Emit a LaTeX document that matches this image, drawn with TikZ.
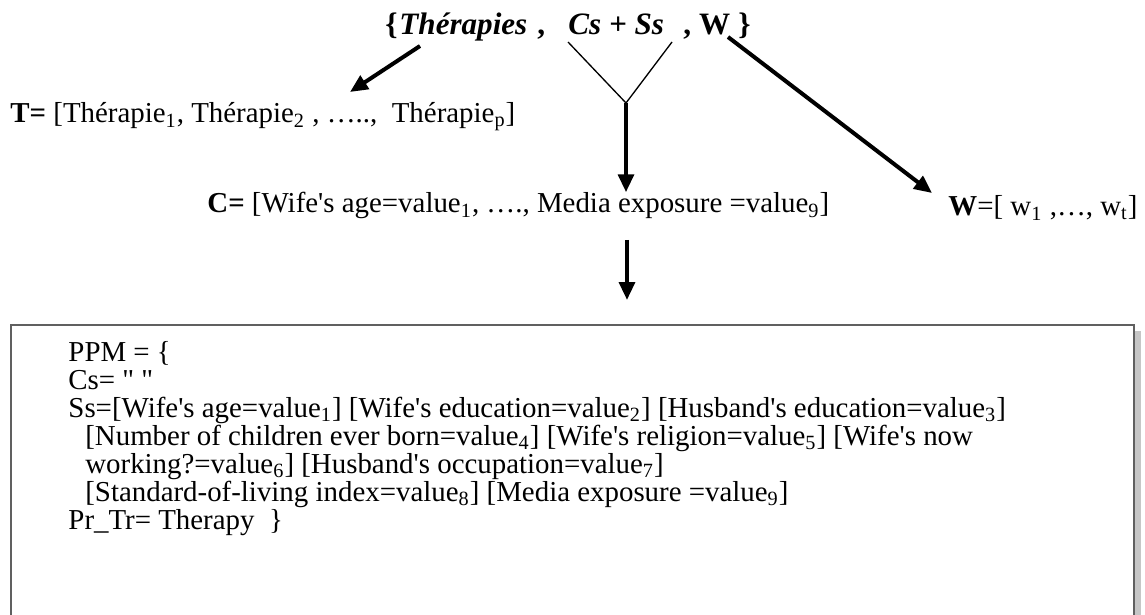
\documentclass[tikz,border=0pt]{standalone}
\usepackage{fontspec}
\setmainfont{Liberation Serif}[Ligatures=TeXOff]
\usetikzlibrary{arrows.meta}
\tikzset{
  txt/.style={anchor=base west, inner sep=0pt, font=\fontsize{13}{12.6}\selectfont},
  ttl/.style={txt, font=\fontsize{14}{14}\selectfont\bfseries},
  arr/.style={line width=1.8pt, -{Triangle[length=8pt,width=7pt]}},
  fork/.style={line width=0.6pt},
  ppmbox/.style={draw=gray!75!black, line width=0.9pt},
}
\begin{document}
\begin{tikzpicture}[x=0.45pt,y=-0.45pt]
    \useasboundingbox (0,0) rectangle (1145,615);
    \clip (0,0) rectangle (1145,615);

    \node[ttl] (bo) at (385,35) {\{};
    \node[ttl] (ther) at (399,35) {\textit{Thérapies}};
    \node[ttl] (cm) at (537,35) {,};
    \node[ttl] (css) at (568,35) {\textit{Cs + Ss}};
    \node[ttl] (wt) at (683,35) {, W};
    \node[ttl] (bc) at (738,35) {\}};

    \node[txt] (tvec) at (10,123) {\textbf{T=} [Thérapie\textsubscript{1}, Thérapie\textsubscript{2} , ….., \ Thérapie\textsubscript{p}]};
    \node[txt] (cvec) at (207,213) {\textbf{C=} [Wife's age=value\textsubscript{1}, …., Media exposure =value\textsubscript{9}]};
    \node[txt] (wvec) at (948,216) {\textbf{W}=[ w\textsubscript{1} ,…, w\textsubscript{t}]};

    \coordinate (tS) at (420,46);
    \coordinate (tE) at (350,92);
    \coordinate (csL) at (568,42);
    \coordinate (csR) at (672,42);
    \coordinate (jn) at (626,103);
    \coordinate (wS) at (728,37);
    \coordinate (wE) at (932,193);
    \coordinate (cS) at (627,240);
    \coordinate (cE) at (627,300);

    \draw[arr] (tS) -- (tE);
    \draw[fork] (csL) -- (jn) -- (csR);
    \draw[arr] (jn) -- (jn |- cvec.north);
    \draw[arr] (wS) -- (wE);
    \draw[arr] (cS) -- (cE);

    \fill[gray!45] (1134,331) rectangle (1141,640);
    \draw[ppmbox] (11,325) rectangle (1134,640);
    \node[txt, anchor=north west, align=left] (ppm) at (68,341) {PPM = \{\\
        Cs= " "\\
        Ss=[Wife's age=value\textsubscript{1}] [Wife's education=value\textsubscript{2}] [Husband's education=value\textsubscript{3}]\\
        \hspace*{7.6pt}[Number of children ever born=value\textsubscript{4}] [Wife's religion=value\textsubscript{5}] [Wife's now\\
        \hspace*{7.6pt}working?=value\textsubscript{6}] [Husband's occupation=value\textsubscript{7}]\\
        \hspace*{7.6pt}[Standard-of-living index=value\textsubscript{8}] [Media exposure =value\textsubscript{9}]\\
        Pr\_Tr= Therapy \ \}};
\end{tikzpicture}
\end{document}
